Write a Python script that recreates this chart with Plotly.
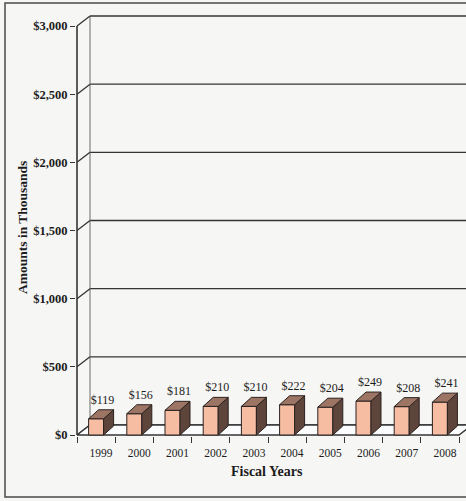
import plotly.graph_objects as go

# ---------------- data ----------------
years = ["1999", "2000", "2001", "2002", "2003", "2004", "2005", "2006", "2007", "2008"]
amounts = [119, 156, 181, 210, 210, 222, 204, 249, 208, 241]
y_tick_vals = [0, 500, 1000, 1500, 2000, 2500, 3000]
y_tick_text = ["$0", "$500", "$1,000", "$1,500", "$2,000", "$2,500", "$3,000"]

# ---------------- geometry / style ----------------
W, H = 466, 501
ML, MR, MT, MB = 76, 0, 10, 65
PX_PER_X = 38.2            # pixels per category
UNITS_PER_PX = 7.335       # value units per pixel
plot_w = W - ML - MR
plot_h = H - MT - MB
xmin = -0.5 - 1 / PX_PER_X
xmax = xmin + plot_w / PX_PER_X
ymin = -1 * UNITS_PER_PX
ymax = ymin + plot_h * UNITS_PER_PX

WALL_DX = 13 / PX_PER_X      # depth of back wall (x units)
WALL_DY = 10 * UNITS_PER_PX  # depth of back wall (y units)
BAR_DX = 10 / PX_PER_X
BAR_DY = 9 * UNITS_PER_PX
BAR_W = 15 / PX_PER_X
LABEL_GAP = 3 * UNITS_PER_PX

n = len(years)
idx = list(range(n))
x_lo, x_hi = -0.5, n - 0.5

LINE = "#353535"
FRONT = "#F6BDA3"
TOP = "#9C7564"
SIDE = "#5E453B"
EDGE = "#2b2220"
BG = "#F6F6F4"
SERIF = "Liberation Serif, Times New Roman, serif"


def px_x(px):
    return (px - ML) / plot_w


def px_y(py):
    return (H - MB - py) / plot_h


fig = go.Figure()

# back wall gridlines
gx, gy = [], []
for v in y_tick_vals:
    gx += [x_lo + WALL_DX, x_hi + WALL_DX, None]
    gy += [v + WALL_DY, v + WALL_DY, None]
fig.add_trace(go.Scatter(x=gx, y=gy, mode="lines", line=dict(color=LINE, width=1.4),
                         hoverinfo="skip", showlegend=False))
# back wall left vertical edge
fig.add_trace(go.Scatter(x=[x_lo + WALL_DX, x_lo + WALL_DX], y=[WALL_DY, y_tick_vals[-1] + WALL_DY],
                         mode="lines", line=dict(color="#6a6a6a", width=1),
                         hoverinfo="skip", showlegend=False))
# side wall diagonals
dx_, dy_ = [], []
for v in y_tick_vals:
    dx_ += [x_lo, x_lo + WALL_DX, None]
    dy_ += [v, v + WALL_DY, None]
fig.add_trace(go.Scatter(x=dx_, y=dy_, mode="lines", line=dict(color=LINE, width=1.3),
                         hoverinfo="skip", showlegend=False))
# front vertical axis line
fig.add_trace(go.Scatter(x=[x_lo, x_lo], y=[0, y_tick_vals[-1]], mode="lines",
                         line=dict(color=LINE, width=1.6), hoverinfo="skip", showlegend=False))
# floor
fig.add_trace(go.Scatter(x=[x_lo, x_hi, x_hi + WALL_DX, x_lo + WALL_DX, x_lo],
                         y=[0, 0, WALL_DY, WALL_DY, 0], mode="lines", fill="toself",
                         fillcolor="#FBFCFD", line=dict(color=LINE, width=1.4),
                         hoverinfo="skip", showlegend=False))

# bars: front, side, top faces
fx, fy, sx, sy, tx, ty = [], [], [], [], [], []
for i, v in zip(idx, amounts):
    l, r = i - BAR_W / 2, i + BAR_W / 2
    fx += [l, r, r, l, l, None]
    fy += [0, 0, v, v, 0, None]
    sx += [r, r + BAR_DX, r + BAR_DX, r, r, None]
    sy += [0, BAR_DY, v + BAR_DY, v, 0, None]
    tx += [l, r, r + BAR_DX, l + BAR_DX, l, None]
    ty += [v, v, v + BAR_DY, v + BAR_DY, v, None]
for xs, ys, col in [(fx, fy, FRONT), (sx, sy, SIDE), (tx, ty, TOP)]:
    fig.add_trace(go.Scatter(x=xs, y=ys, mode="lines", fill="toself", fillcolor=col,
                             line=dict(color=EDGE, width=1), hoverinfo="skip", showlegend=False))

# value labels
fig.add_trace(go.Scatter(
    x=[i + 0.17 for i in idx], y=[v + BAR_DY + LABEL_GAP for v in amounts], mode="text",
    text=[f"${v}" for v in amounts], textposition="top center",
    textfont=dict(family=SERIF, size=12, color="#1c1c1c"),
    cliponaxis=False, hoverinfo="skip", showlegend=False))

fig.update_layout(
    width=W, height=H, autosize=False,
    margin=dict(l=ML, r=MR, t=MT, b=MB, pad=0),
    paper_bgcolor=BG, plot_bgcolor=BG,
    xaxis=dict(range=[xmin, xmax], showgrid=False, zeroline=False, showline=False,
               tickmode="array", tickvals=[i + BAR_DX / 2 for i in idx], ticktext=years,
               ticks="outside", ticklen=6, tickcolor="rgba(0,0,0,0)",
               tickfont=dict(family=SERIF, size=11.5, color="#1c1c1c"),
               minor=dict(tickmode="array", tickvals=[i - 0.5 for i in range(n + 1)],
                          ticks="outside", ticklen=6, tickwidth=1.4, tickcolor=LINE),
               fixedrange=True),
    yaxis=dict(range=[ymin, ymax], showgrid=False, zeroline=False, showline=False,
               tickmode="array", tickvals=y_tick_vals, ticktext=y_tick_text,
               ticks="outside", ticklen=5, tickwidth=1.4, tickcolor=LINE,
               tickfont=dict(family=SERIF, size=12.5, color="#1c1c1c", weight="bold"),
               fixedrange=True),
    font=dict(family=SERIF),
    annotations=[
        dict(text="Fiscal Years", xref="paper", yref="paper", x=px_x(267), y=px_y(472),
             xanchor="center", yanchor="middle", showarrow=False,
             font=dict(family=SERIF, size=14, color="#1c1c1c", weight="bold")),
        dict(text="Amounts in Thousands", xref="paper", yref="paper", x=px_x(22), y=px_y(228),
             xanchor="center", yanchor="middle", showarrow=False, textangle=-90,
             font=dict(family=SERIF, size=13.5, color="#1c1c1c", weight="bold")),
    ],
    shapes=[
        dict(type="rect", xref="paper", yref="paper", x0=px_x(5), x1=px_x(490),
             y0=px_y(497), y1=px_y(3), line=dict(color="#4a4a4a", width=1.5),
             fillcolor="rgba(0,0,0,0)", layer="below"),
    ],
)

fig.write_html("out.html", config={"displayModeBar": False},
               post_script="document.body.style.margin='0';document.body.style.overflow='hidden';")
